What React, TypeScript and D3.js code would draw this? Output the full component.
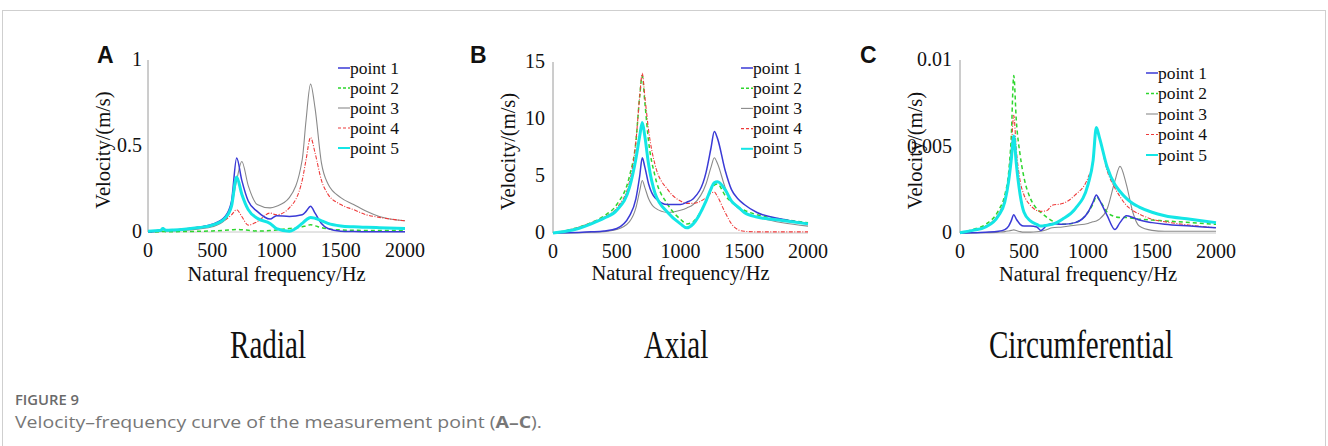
import React from "react";
import * as d3 from "d3";

// ---------- DATA ----------
const SERIES_NAMES = ["point 1", "point 2", "point 3", "point 4", "point 5"];
const X_TICKS = [0, 500, 1000, 1500, 2000];

// Panel A (Radial)
const FREQ_A = [0, 100, 115, 140, 200, 300, 400, 500, 600, 650, 690, 730, 780, 850, 950, 1000, 1100, 1200, 1230, 1265, 1300, 1350, 1400, 1500, 1600, 1700, 1800, 2000];
const A_P1 = [0, 0.01, 0.02, 0.01, 0.012, 0.018, 0.028, 0.045, 0.09, 0.18, 0.43, 0.3, 0.18, 0.12, 0.075, 0.095, 0.09, 0.1, 0.12, 0.15, 0.11, 0.05, 0.02, 0.005, 0.003, 0.002, 0.002, 0.002];
const A_P2 = [0, 0.002, 0.003, 0.002, 0.002, 0.003, 0.004, 0.006, 0.01, 0.013, 0.015, 0.013, 0.01, 0.006, 0.008, 0.012, 0.02, 0.03, 0.036, 0.042, 0.036, 0.025, 0.018, 0.012, 0.01, 0.009, 0.009, 0.008];
const A_P3 = [0, 0.003, 0.004, 0.004, 0.006, 0.01, 0.018, 0.03, 0.07, 0.15, 0.3, 0.41, 0.27, 0.16, 0.14, 0.15, 0.2, 0.42, 0.65, 0.86, 0.72, 0.4, 0.28, 0.2, 0.16, 0.12, 0.09, 0.065];
const A_P4 = [0, 0.015, 0.025, 0.012, 0.012, 0.02, 0.03, 0.04, 0.07, 0.1, 0.13, 0.09, 0.04, 0.06, 0.11, 0.1, 0.14, 0.3, 0.42, 0.55, 0.46, 0.3, 0.22, 0.16, 0.13, 0.1, 0.085, 0.065];
const A_P5 = [0.005, 0.01, 0.02, 0.01, 0.012, 0.018, 0.026, 0.04, 0.08, 0.15, 0.32, 0.22, 0.13, 0.08, 0.05, 0.02, 0.005, 0.05, 0.07, 0.085, 0.08, 0.065, 0.05, 0.035, 0.03, 0.027, 0.025, 0.02];
const A_Y_TICKS = [0, 0.5, 1];
const A_Y_LABELS = ["0", "0.5", "1"];

// Panel B (Axial)
const FREQ_B = [0, 100, 200, 300, 400, 500, 600, 650, 680, 700, 720, 750, 800, 900, 1000, 1050, 1100, 1200, 1240, 1265, 1290, 1350, 1400, 1450, 1500, 1600, 1800, 2000];
const B_P1 = [0, 0.02, 0.05, 0.1, 0.18, 0.4, 1.5, 3, 5, 6.6, 5.8, 4.3, 3.1, 2.5, 2.5, 2.7, 3.0, 5.3, 7.5, 8.9, 8.3, 5.5, 3.8, 3.0, 2.5, 1.8, 1.2, 0.8];
const B_P2 = [0, 0.2, 0.5, 0.9, 1.5, 2.5, 5, 8, 12, 13.8, 11.5, 8, 5, 2.5, 1.2, 0.8, 1.0, 2.8, 3.8, 4.2, 4.3, 3.3, 2.7, 2.3, 2.0, 1.6, 1.2, 0.9];
const B_P3 = [0, 0.01, 0.03, 0.06, 0.12, 0.3, 1.0, 2.2, 3.7, 4.6, 4.0, 3.0, 2.2, 1.8, 2.0, 2.2, 2.5, 4.3, 5.8, 6.6, 6.1, 4.0, 2.8, 2.2, 1.8, 1.4, 0.9, 0.6];
const B_P4 = [0, 0.2, 0.5, 0.9, 1.4, 2.2, 4.5, 8, 12, 14, 12, 9, 6, 3.8, 2.8, 2.6, 2.6, 3.1, 3.5, 3.6, 3.2, 1.8, 0.8, 0.3, 0.15, 0.1, 0.1, 0.1];
const B_P5 = [0, 0.15, 0.4, 0.8, 1.3, 2.0, 4.0, 6.5, 8.5, 9.7, 8.5, 6.0, 3.5, 1.8, 0.8, 0.45, 0.8, 2.8, 3.9, 4.4, 4.5, 3.8, 2.8, 2.3, 1.8, 1.4, 1.1, 0.8];
const B_Y_TICKS = [0, 5, 10, 15];
const B_Y_LABELS = ["0", "5", "10", "15"];

// Panel C (Circumferential)
const FREQ_C = [0, 100, 200, 300, 350, 380, 400, 420, 440, 470, 500, 550, 600, 630, 680, 720, 800, 900, 1000, 1040, 1065, 1090, 1150, 1210, 1250, 1300, 1350, 1400, 1500, 1600, 1800, 2000];
const C_P1 = [0, 0.00002, 0.00005, 0.0001, 0.0002, 0.0004, 0.0007, 0.00105, 0.0008, 0.0005, 0.0004, 0.0004, 0.00035, 0.00015, 0.00045, 0.00055, 0.0005, 0.0006, 0.0012, 0.0018, 0.0022, 0.0019, 0.001, 0.0002, 0.0006, 0.001, 0.0009, 0.00075, 0.0006, 0.0005, 0.0004, 0.0003];
const C_P2 = [0, 0.0002, 0.0005, 0.0013, 0.0022, 0.0035, 0.0055, 0.0091, 0.0065, 0.0045, 0.0032, 0.002, 0.0014, 0.0012, 0.0009, 0.0007, 0.0005, 0.0006, 0.0012, 0.0017, 0.0021, 0.0019, 0.0012, 0.00095, 0.0009, 0.0009, 0.00085, 0.0008, 0.00075, 0.0007, 0.0006, 0.0005];
const C_P3 = [0, 0.00001, 0.00002, 0.00005, 0.00008, 0.00012, 0.00015, 0.00018, 0.00014, 0.00008, 0.00005, 0.00005, 0.00007, 0.0001, 0.0002, 0.0003, 0.00035, 0.00045, 0.00055, 0.00065, 0.0007, 0.0008, 0.0014, 0.003, 0.00385, 0.0028, 0.0012, 0.0004, 0.00015, 0.0001, 0.0001, 0.0001];
const C_P4 = [0, 0.00015, 0.0004, 0.0011, 0.002, 0.0032, 0.0048, 0.0068, 0.0048, 0.003, 0.0022, 0.0016, 0.0013, 0.00125, 0.0013, 0.0016, 0.0017, 0.0022, 0.0032, 0.0042, 0.0061, 0.0055, 0.0036, 0.0026, 0.0021, 0.0016, 0.0013, 0.0011, 0.0008, 0.00065, 0.00045, 0.0003];
const C_P5 = [0.00002, 0.00015, 0.00035, 0.001, 0.0018, 0.003, 0.0042, 0.0056, 0.004, 0.0022, 0.0012, 0.0007, 0.0005, 0.0004, 0.00045, 0.0005, 0.0008, 0.0014, 0.0028, 0.0042, 0.0061, 0.0055, 0.0038, 0.0028, 0.0024, 0.002, 0.0017, 0.0015, 0.0012, 0.001, 0.0008, 0.0006];
const C_Y_TICKS = [0, 0.005, 0.01];
const C_Y_LABELS = ["0", "0.005", "0.01"];

const SUBTITLES = ["Radial", "Axial", "Circumferential"];
const PANEL_LETTERS = ["A", "B", "C"];

// ---------- STYLES ----------
const STYLES = [
  { color: "#3a3ad6", width: 1.5, dash: "" },
  { color: "#2ed62e", width: 1.5, dash: "4,3" },
  { color: "#8a8a8a", width: 1.1, dash: "" },
  { color: "#ee3a3a", width: 1.1, dash: "4,1.5,1,1.5" },
  { color: "#14e6e6", width: 3, dash: "" },
];

const SERIF = "'Liberation Serif', 'Times New Roman', serif";

type PanelProps = {
  freq: number[];
  series: number[][];
  yMax: number;
  yTicks: number[];
  yLabels: string[];
  x0: number;
  x1: number;
  yTop: number;
  yBottom: number;
  legendX: number;
  legendY: number;
  legendStep: number;
  letter: string;
  letterX: number;
  yTitleX: number;
  xTitleY: number;
  tickOffset: number;
};

function Panel(p: PanelProps) {
  const x = d3.scaleLinear().domain([0, 2000]).range([p.x0, p.x1]);
  const y = d3.scaleLinear().domain([0, p.yMax]).range([p.yBottom, p.yTop]);
  const line = d3
    .line<[number, number]>()
    .x((d) => x(d[0]))
    .y((d) => y(d[1]))
    .curve(d3.curveMonotoneX);
  const order = [2, 1, 3, 0, 4];
  return (
    <g>
      <line x1={p.x0} x2={p.x0} y1={p.yTop} y2={p.yBottom} stroke="#9a9a9a" strokeWidth={1} />
      <line x1={p.x0} x2={p.x1} y1={p.yBottom} y2={p.yBottom} stroke="#c8c8c8" strokeWidth={1} />
      {order.map((i) => {
        const pts: [number, number][] = p.freq.map((f, k) => [f, p.series[i][k]]);
        const s = STYLES[i];
        return (
          <path key={i} d={line(pts) || ""} fill="none" stroke={s.color} strokeWidth={s.width}
            strokeDasharray={s.dash || undefined} strokeLinejoin="round" />
        );
      })}
      {p.yTicks.map((t, k) => (
        <text key={"yt" + k} x={p.x0 - p.tickOffset} y={y(t) + 6} textAnchor="end"
          fontFamily={SERIF} fontSize={20} fill="#111">{p.yLabels[k]}</text>
      ))}
      {X_TICKS.map((t) => (
        <text key={"xt" + t} x={x(t)} y={p.yBottom + 25} textAnchor="middle"
          fontFamily={SERIF} fontSize={20} fill="#111">{t}</text>
      ))}
      <text x={(p.x0 + p.x1) / 2} y={p.xTitleY} textAnchor="middle" fontFamily={SERIF} fontSize={20.5} fill="#111">
        Natural frequency/Hz
      </text>
      <text transform={`translate(${p.yTitleX},${(p.yTop + p.yBottom) / 2 + 4}) rotate(-90)`} textAnchor="middle"
        fontFamily={SERIF} fontSize={20.5} fill="#111">
        Velocity/(m/s)
      </text>
      <text x={p.letterX} y={63} fontFamily="'Liberation Sans', Arial, sans-serif" fontWeight="bold" fontSize={23} fill="#111">
        {p.letter}
      </text>
      {SERIES_NAMES.map((name, i) => {
        const s = STYLES[i];
        const ly = p.legendY + i * p.legendStep;
        return (
          <g key={name}>
            <line x1={p.legendX} x2={p.legendX + 12} y1={ly} y2={ly} stroke={s.color}
              strokeWidth={Math.min(s.width, 2)} strokeDasharray={s.dash ? "3,2" : undefined} />
            <text x={p.legendX + 12} y={ly + 5.5} fontFamily={SERIF} fontSize={17.5} fill="#111">{name}</text>
          </g>
        );
      })}
    </g>
  );
}

export default function App() {
  const panels: PanelProps[] = [
    {
      freq: FREQ_A, series: [A_P1, A_P2, A_P3, A_P4, A_P5], yMax: 1, yTicks: A_Y_TICKS, yLabels: A_Y_LABELS,
      x0: 148, x1: 405, yTop: 60, yBottom: 232, legendX: 338, legendY: 68, legendStep: 20,
      letter: PANEL_LETTERS[0], letterX: 97, yTitleX: 110, xTitleY: 281, tickOffset: 6,
    },
    {
      freq: FREQ_B, series: [B_P1, B_P2, B_P3, B_P4, B_P5], yMax: 15, yTicks: B_Y_TICKS, yLabels: B_Y_LABELS,
      x0: 553, x1: 808, yTop: 62, yBottom: 233, legendX: 741, legendY: 68, legendStep: 20.2,
      letter: PANEL_LETTERS[1], letterX: 470, yTitleX: 515, xTitleY: 280, tickOffset: 8,
    },
    {
      freq: FREQ_C, series: [C_P1, C_P2, C_P3, C_P4, C_P5], yMax: 0.01, yTicks: C_Y_TICKS, yLabels: C_Y_LABELS,
      x0: 960, x1: 1216, yTop: 60, yBottom: 233, legendX: 1146, legendY: 73, legendStep: 20.5,
      letter: PANEL_LETTERS[2], letterX: 860, yTitleX: 922, xTitleY: 281, tickOffset: 8,
    },
  ];
  const subX = [268, 676, 1081];
  return (
    <svg width={1328} height={446} style={{ position: "absolute", left: 0, top: 0, background: "#fff" }}>
      <rect x={2.5} y={10.5} width={1323} height={440} fill="#fff" stroke="#cfcfcf" strokeWidth={1} />
      {panels.map((p, i) => (
        <Panel key={i} {...p} />
      ))}
      {SUBTITLES.map((s, i) => (
        <text key={s} transform={`translate(${subX[i]},358) scale(0.97,1.3)`} textAnchor="middle"
          fontFamily={SERIF} fontSize={30} fill="#111">{s}</text>
      ))}
      <text x={15} y={405} fontFamily="'Open Sans', 'Noto Sans', sans-serif" fontSize={15} fontWeight={600} fill="#6a6a6a"
        textLength={64} lengthAdjust="spacingAndGlyphs">
        FIGURE 9
      </text>
      <text x={15} y={428} fontFamily="'Open Sans', 'Noto Sans', sans-serif" fontSize={16} fill="#777"
        textLength={527} lengthAdjust="spacingAndGlyphs">
        Velocity–frequency curve of the measurement point (<tspan fontWeight="bold">A–C</tspan>).
      </text>
    </svg>
  );
}
